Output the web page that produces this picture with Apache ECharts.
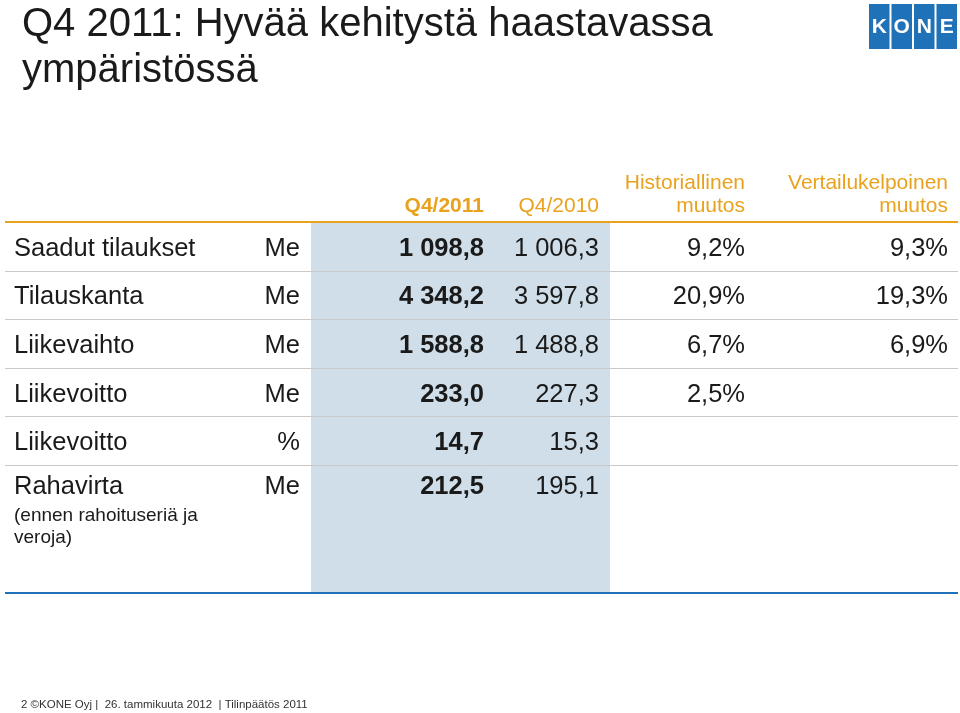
<!DOCTYPE html>
<html>
<head>
<meta charset="utf-8">
<script src="https://cdn.jsdelivr.net/npm/echarts@6/dist/echarts.min.js"></script>
<style>
  html, body { margin: 0; padding: 0; background: #fff; }
  #main { width: 960px; height: 713px; }
</style>
</head>
<body>
<div id="main"></div>
<script>
// taulukon rivit
const rowLabels = ['Saadut tilaukset', 'Tilauskanta', 'Liikevaihto', 'Liikevoitto', 'Liikevoitto', 'Rahavirta'];
const rowNotes = ['', '', '', '', '', '(ennen rahoituseriä ja\nveroja)'];
const units = ['Me', 'Me', 'Me', 'Me', '%', 'Me'];
const q4_2011 = [1098.8, 4348.2, 1588.8, 233.0, 14.7, 212.5];
const q4_2010 = [1006.3, 3597.8, 1488.8, 227.3, 15.3, 195.1];
const histChange = [9.2, 20.9, 6.7, 2.5, null, null];
const compChange = [9.3, 19.3, 6.9, null, null, null];
const headers = ['Q4/2011', 'Q4/2010', 'Historiallinen\nmuutos', 'Vertailukelpoinen\nmuutos'];

const FONT = '"Liberation Sans", Arial, Helvetica, sans-serif';
const ORANGE = '#e9a21d';
const BLUE = '#1f72b8';
const TEXT = '#1a1a1a';
const ROW_SIZE = 25.5;

// sarakkeiden ankkurit (oikea reuna)
const colX = { label: 14, unit: 300, cur: 484, prev: 599, hist: 745, comp: 948 };

function fmt(v) {
  if (v === null || v === undefined) return '';
  const parts = v.toFixed(1).split('.');
  return parts[0].replace(/\B(?=(\d{3})+(?!\d))/g, ' ') + ',' + parts[1];
}
function pct(v) {
  return v === null || v === undefined ? '' : fmt(v) + '%';
}

function txt(text, x, y, align, size, weight, color) {
  return {
    type: 'text',
    style: {
      text: text, x: x, y: y, align: align, verticalAlign: 'middle',
      fontSize: size, fontWeight: weight || 'normal', fontFamily: FONT,
      fill: color || TEXT
    }
  };
}

const chart = echarts.init(document.getElementById('main'), null, { renderer: 'canvas' });

function renderRow(params, api) {
  const i = params.dataIndex;
  const cs = params.coordSys;
  const band = api.size([0, 1])[1];
  const center = api.coord([0, i])[1];
  const cy = rowNotes[i] ? center - 2 : center + 2.5;
  const children = [
    txt(rowLabels[i], colX.label, cy, 'left', ROW_SIZE),
    txt(units[i], colX.unit, cy, 'right', ROW_SIZE),
    txt(fmt(q4_2011[i]), colX.cur, cy, 'right', ROW_SIZE, 'bold'),
    txt(fmt(q4_2010[i]), colX.prev, cy, 'right', ROW_SIZE),
    txt(pct(histChange[i]), colX.hist, cy, 'right', ROW_SIZE),
    txt(pct(compChange[i]), colX.comp, cy, 'right', ROW_SIZE)
  ];
  if (rowNotes[i]) {
    const note = txt(rowNotes[i], colX.label, center + 15, 'left', 19);
    note.style.verticalAlign = 'top';
    note.style.lineHeight = 22;
    children.push(note);
  }
  if (i < rowLabels.length - 1) {
    const ly = Math.round(center + band / 2) + 0.5;
    children.push({
      type: 'line',
      shape: { x1: cs.x, y1: ly, x2: cs.x + cs.width, y2: ly },
      style: { stroke: '#c9c9c9', lineWidth: 1 }
    });
  }
  return { type: 'group', children: children };
}

const logoLetters = ['K', 'O', 'N', 'E'];
const logo = [];
logoLetters.forEach(function (ch, k) {
  const x = 869 + k * 22.5;
  logo.push({ type: 'rect', shape: { x: x, y: 4, width: 20.5, height: 45 }, style: { fill: BLUE } });
  logo.push({ type: 'text', style: { text: ch, x: x + 10.25, y: 27, align: 'center', verticalAlign: 'middle', fontSize: 21, fontWeight: 'bold', fontFamily: FONT, fill: '#fff' } });
});

const option = {
  animation: false,
  backgroundColor: '#ffffff',
  grid: { left: 5, right: 2, top: 222, height: 291.6 },
  xAxis: { type: 'value', min: 0, max: 1, show: false },
  yAxis: { type: 'category', inverse: true, data: rowLabels, show: false },
  graphic: [
    // sävytetty Q4-sarake
    { type: 'rect', z: -10, shape: { x: 311, y: 222, width: 299, height: 370 }, style: { fill: '#cfdee8' } },
    { type: 'line', z: 5, shape: { x1: 5, y1: 222, x2: 958, y2: 222 }, style: { stroke: ORANGE, lineWidth: 2 } },
    { type: 'line', z: 5, shape: { x1: 5, y1: 593, x2: 958, y2: 593 }, style: { stroke: BLUE, lineWidth: 2 } },
    // otsikko
    { type: 'text', style: { text: 'Q4 2011: Hyvää kehitystä haastavassa', x: 22, y: 25, verticalAlign: 'middle', fontSize: 40, fontFamily: FONT, fill: TEXT } },
    { type: 'text', style: { text: 'ympäristössä', x: 22, y: 71, verticalAlign: 'middle', fontSize: 40, fontFamily: FONT, fill: TEXT } },
    // sarakeotsikot
    { type: 'text', style: { text: headers[0], x: colX.cur, y: 206, align: 'right', verticalAlign: 'middle', fontSize: 21, fontWeight: 'bold', fontFamily: FONT, fill: ORANGE } },
    { type: 'text', style: { text: headers[1], x: colX.prev, y: 206, align: 'right', verticalAlign: 'middle', fontSize: 21, fontFamily: FONT, fill: ORANGE } },
    { type: 'text', style: { text: headers[2], x: colX.hist, y: 218, align: 'right', verticalAlign: 'bottom', lineHeight: 23, fontSize: 21, fontFamily: FONT, fill: ORANGE } },
    { type: 'text', style: { text: headers[3], x: colX.comp, y: 218, align: 'right', verticalAlign: 'bottom', lineHeight: 23, fontSize: 21, fontFamily: FONT, fill: ORANGE } },
    // alatunniste
    { type: 'text', style: { text: '2 ©KONE Oyj |  26. tammikuuta 2012  | Tilinpäätös 2011', x: 21, y: 705, verticalAlign: 'middle', fontSize: 11.5, fontFamily: FONT, fill: '#333' } }
  ].concat(logo),
  series: [
    {
      type: 'custom',
      renderItem: renderRow,
      data: rowLabels.map(function (_, i) { return [0, i]; }),
      silent: true,
      clip: false
    }
  ]
};

chart.setOption(option);
</script>
</body>
</html>
